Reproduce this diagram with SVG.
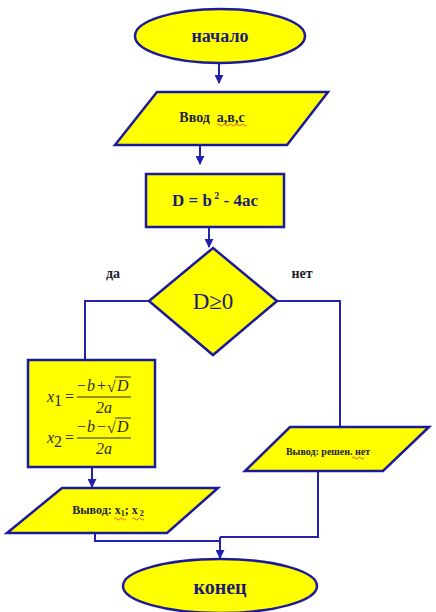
<svg xmlns="http://www.w3.org/2000/svg" width="436" height="612" viewBox="0 0 436 612">
<defs>
<marker id="arr" viewBox="0 0 10 10" refX="9" refY="5" markerWidth="9" markerHeight="9" markerUnits="userSpaceOnUse" orient="auto">
<path d="M0,0 L10,5 L0,10 z" fill="#1f1fb0"/>
</marker>
<style>
.shape{fill:#ffff00;stroke:#1a1a9a;stroke-width:2.5;}
.conn{fill:none;stroke:#2323a8;stroke-width:2;}
.t{font-family:"Liberation Serif","Times New Roman",serif;font-weight:bold;text-anchor:middle;}
.navy{fill:#1c1c70;}
.dark{fill:#22222e;}
.m{font-family:"Liberation Serif","Times New Roman",serif;font-style:italic;fill:#2a2a20;font-size:16px;}
.mn{font-family:"Liberation Serif","Times New Roman",serif;font-style:normal;fill:#2a2a20;font-size:16px;}
.wavy{fill:none;stroke:#e03030;stroke-width:0.8;}
.bar{stroke:#2a2a20;stroke-width:1;}
</style>
</defs>
<g id="connectors">
<line class="conn" x1="219" y1="63" x2="219" y2="83" marker-end="url(#arr)"/>
<line class="conn" x1="200" y1="145" x2="200" y2="164" marker-end="url(#arr)"/>
<line class="conn" x1="209" y1="227" x2="209" y2="247" marker-end="url(#arr)"/>
<polyline class="conn" points="149,301 85,301 85,361"/>
<polyline class="conn" points="277,301 340,301 340,427"/>
<line class="conn" x1="92" y1="467" x2="92" y2="487" marker-end="url(#arr)"/>
<polyline class="conn" points="95,533 95,541 220,541"/>
<polyline class="conn" points="318,471 318,537 220,537"/>
<line class="conn" x1="220" y1="537" x2="220" y2="558" marker-end="url(#arr)"/>
</g>
<g id="start">
<ellipse class="shape" cx="220" cy="36" rx="85" ry="27"/>
<text class="t navy" x="220" y="42" font-size="18">начало</text>
</g>
<g id="input">
<polygon class="shape" points="157,92 328,92 287,145 115,145"/>
<text class="t dark" x="212" y="122" font-size="14" xml:space="preserve">Ввод  а,в,с</text>
<path class="wavy" d="M217,125 q1.5,-2 3,0 t3,0 t3,0 t3,0 t3,0 t3,0 t3,0 t3,0 t3,0 t3,0"/>
</g>
<g id="calcD">
<rect class="shape" x="146" y="174" width="138" height="53"/>
<text class="t navy" x="215" y="206" font-size="17">D = b<tspan font-size="10" dy="-7"> 2</tspan><tspan dy="7"> -  4ac</tspan></text>
</g>
<g id="decision">
<polygon class="shape" points="213,248 277,301 213,355 149,301"/>
<text x="213" y="309" style="font-family:'Liberation Serif','Times New Roman',serif;font-size:23px;font-weight:normal;text-anchor:middle;fill:#1c1c70">D≥0</text>
</g>
<text class="t dark" x="113" y="278" font-size="14">да</text>
<text class="t dark" x="302" y="278" font-size="14">нет</text>
<g id="roots">
<rect class="shape" x="28" y="360" width="127" height="107"/>
<text class="m" x="47" y="402">x<tspan class="mn" font-size="10" dy="4">1</tspan></text>
<text class="mn" x="65" y="402">=</text>
<line class="bar" x1="77" y1="397" x2="131" y2="397"/>
<text class="mn" x="77" y="391">−</text>
<text class="m" x="87" y="391">b</text>
<text class="mn" x="97" y="391">+</text>
<text class="mn" x="107" y="392" font-size="17">√</text>
<line class="bar" x1="115" y1="377" x2="131" y2="377"/>
<text class="m" x="117" y="391" font-size="17">D</text>
<text class="m" x="104" y="413" text-anchor="middle">2a</text>
<text class="m" x="47" y="443">x<tspan class="mn" font-size="10" dy="4">2</tspan></text>
<text class="mn" x="65" y="443">=</text>
<line class="bar" x1="77" y1="438" x2="131" y2="438"/>
<text class="mn" x="77" y="432">−</text>
<text class="m" x="87" y="432">b</text>
<text class="mn" x="97" y="432">−</text>
<text class="mn" x="107" y="433" font-size="17">√</text>
<line class="bar" x1="115" y1="418" x2="131" y2="418"/>
<text class="m" x="117" y="432" font-size="17">D</text>
<text class="m" x="104" y="454" text-anchor="middle">2a</text>
</g>
<g id="outputRoots">
<polygon class="shape" points="62,488 218,488 167,533 7,533"/>
<text class="t dark" x="108" y="514" font-size="12">Вывод: x<tspan font-size="8" dy="2">1</tspan><tspan dy="-2">; x</tspan><tspan font-size="8" dy="2"> 2</tspan></text>
<path class="wavy" d="M114,519 q1.5,-2 3,0 t3,0 t3,0 t3,0 M132,519 q1.5,-2 3,0 t3,0 t3,0 t3,0"/>
</g>
<g id="outputNone">
<polygon class="shape" points="290,427 429,427 383,471 245,471"/>
<text class="t dark" x="328" y="455" font-size="10">Вывод: решен. нет</text>
<path class="wavy" d="M352,458 q1.5,-2 3,0 t3,0 t3,0 t3,0"/>
</g>
<g id="end">
<ellipse class="shape" cx="220" cy="586" rx="97" ry="27"/>
<text class="t navy" x="220" y="594" font-size="20">конец</text>
</g>
</svg>
